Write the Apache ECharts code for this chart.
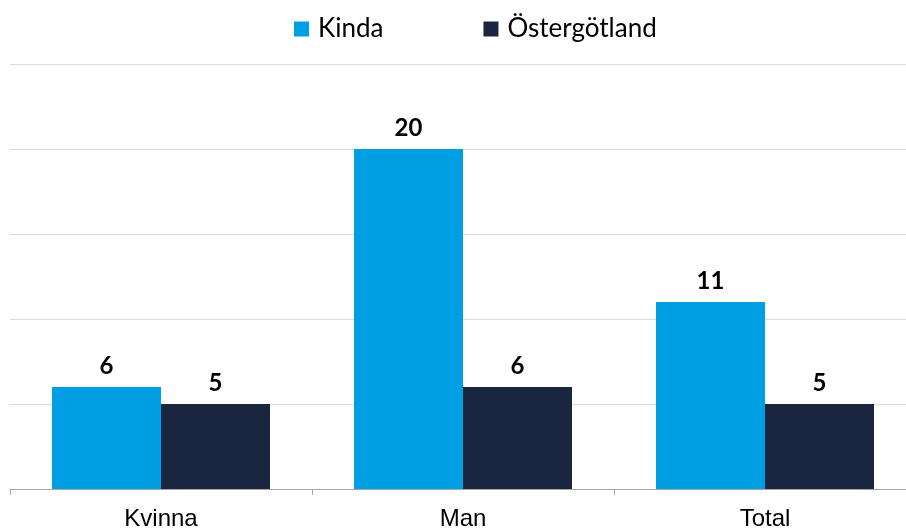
<!DOCTYPE html>
<html><head><meta charset="utf-8">
<script src="https://cdn.jsdelivr.net/npm/echarts@6/dist/echarts.min.js"></script>
<style>html,body{margin:0;padding:0;background:#fff}#c{width:906px;height:529px}</style>
</head><body><div id="c"></div>
<script>
var categories = ['Kvinna', 'Man', 'Total'];
var kinda = [6, 20, 11];
var ostergotland = [5, 6, 5];
var seriesNames = ['Kinda', 'Östergötland'];

var chart = echarts.init(document.getElementById('c'));
var labelStyle = {show: true, position: 'top', distance: 9, fontFamily: 'Lato', fontWeight: 'bold', fontSize: 24, color: '#000'};
chart.setOption({
  animation: false,
  legend: {
    top: 11, left: 289, itemWidth: 15, itemHeight: 15, itemGap: 100, icon: 'rect',
    textStyle: {fontFamily: 'Lato', fontSize: 26, color: '#000', padding: [0, 0, 0, 4]},
    data: seriesNames
  },
  grid: {left: 10, width: 906, top: 64, bottom: 40, containLabel: false, outerBoundsMode: 'none'},
  xAxis: {
    type: 'category', data: categories,
    axisLine: {lineStyle: {color: '#a6a6a6', width: 1}},
    axisTick: {show: true, length: 6, lineStyle: {color: '#a6a6a6'}},
    axisLabel: {fontFamily: 'Liberation Sans', fontSize: 24, color: '#000', margin: 18}
  },
  yAxis: {
    type: 'value', min: 0, max: 25, interval: 5,
    axisLabel: {show: false}, axisLine: {show: false}, axisTick: {show: false},
    splitLine: {lineStyle: {color: '#d9d9d9', width: 1}}
  },
  series: [
    {name: seriesNames[0], type: 'bar', data: kinda, barWidth: 109, barGap: '0%', itemStyle: {color: '#009fe3'}, label: labelStyle},
    {name: seriesNames[1], type: 'bar', data: ostergotland, barWidth: 109, barGap: '0%', itemStyle: {color: '#1a2640'}, label: labelStyle}
  ]
});
</script></body></html>
